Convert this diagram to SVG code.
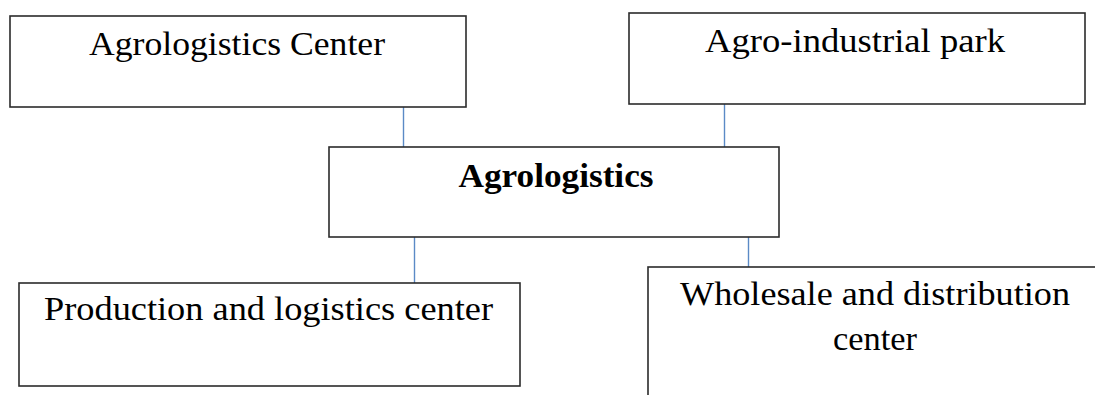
<svg xmlns="http://www.w3.org/2000/svg" width="1095" height="395" viewBox="0 0 1095 395">
<style>
.box{fill:#fff;stroke:#2b2b2b;stroke-width:1.6}
.t{font-family:"Liberation Serif","Times New Roman",serif;font-size:34px;fill:#000;text-anchor:middle}
.b{font-weight:bold}
.c{stroke:#5b8ac6;stroke-width:1.4;fill:none}
</style>
<rect width="1095" height="395" fill="#fff"/>
<g id="connectors">
<line class="c" x1="403.5" y1="107" x2="403.5" y2="147"/>
<line class="c" x1="724.5" y1="104" x2="724.5" y2="147"/>
<line class="c" x1="414.5" y1="237" x2="414.5" y2="283"/>
<line class="c" x1="748.5" y1="237" x2="748.5" y2="267"/>
</g>
<g id="agrologistics-center">
<rect class="box" x="10" y="16" width="456" height="91"/>
<text class="t" x="237" y="55" textLength="296" lengthAdjust="spacingAndGlyphs">Agrologistics Center</text>
</g>
<g id="agro-industrial-park">
<rect class="box" x="629" y="13" width="456" height="91"/>
<text class="t" x="855" y="52" textLength="300" lengthAdjust="spacingAndGlyphs">Agro-industrial park</text>
</g>
<g id="agrologistics">
<rect class="box" x="329" y="147" width="450" height="90"/>
<text class="t b" x="556" y="187" textLength="195" lengthAdjust="spacingAndGlyphs">Agrologistics</text>
</g>
<g id="production-logistics-center">
<rect class="box" x="19" y="283" width="501" height="103"/>
<text class="t" x="268.5" y="320" textLength="449" lengthAdjust="spacingAndGlyphs">Production and logistics center</text>
</g>
<g id="wholesale-distribution-center">
<rect class="box" x="648" y="267" width="460" height="140"/>
<text class="t" x="875" y="305" textLength="390" lengthAdjust="spacingAndGlyphs">Wholesale and distribution</text>
<text class="t" x="875" y="350" textLength="84" lengthAdjust="spacingAndGlyphs">center</text>
</g>
</svg>
